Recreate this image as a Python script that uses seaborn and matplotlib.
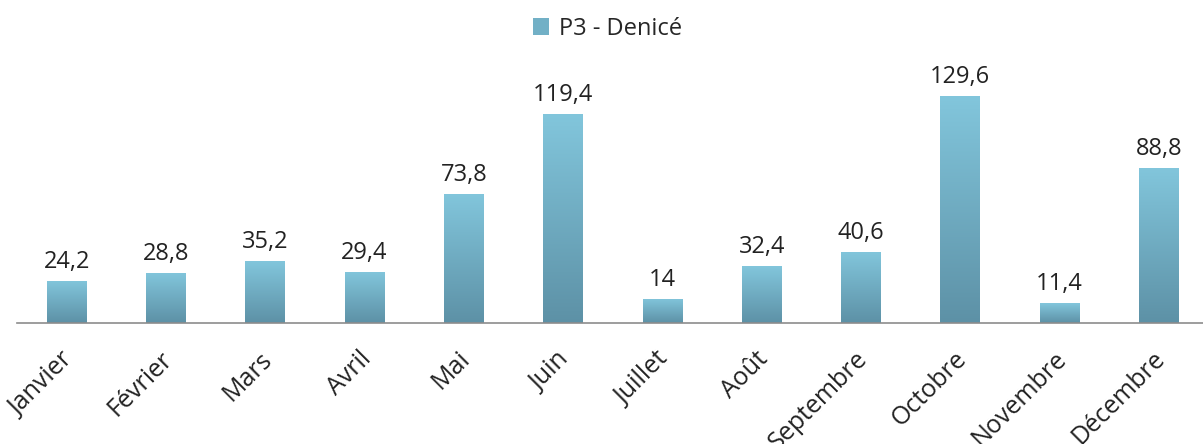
import numpy as np
import pandas as pd
import matplotlib
matplotlib.use("Agg")
import matplotlib.pyplot as plt
import matplotlib.transforms as mtransforms
import seaborn as sns
from matplotlib.colors import LinearSegmentedColormap
from matplotlib.patches import Patch

# data
mois = ["Janvier", "Février", "Mars", "Avril", "Mai", "Juin", "Juillet",
        "Août", "Septembre", "Octobre", "Novembre", "Décembre"]
valeurs = [24.2, 28.8, 35.2, 29.4, 73.8, 119.4, 14, 32.4, 40.6, 129.6, 11.4, 88.8]
serie = "P3 - Denicé"

df = pd.DataFrame({"Mois": mois, "Valeur": valeurs})

sns.set_style("white")
plt.rcParams["font.family"] = ["Open Sans", "DejaVu Sans"]

top_col = "#82c6dc"
bot_col = "#5d91a6"
grad = LinearSegmentedColormap.from_list("bleu", [bot_col, top_col])

fig = plt.figure(figsize=(12.03, 4.44), dpi=100)
ax = fig.add_axes([0.0141, 0.2725, 0.9905, 0.6306])

sns.barplot(data=df, x="Mois", y="Valeur", color=top_col, width=0.4,
            saturation=1, ax=ax)

# vertical gradient inside each bar
g = np.linspace(0, 1, 256).reshape(-1, 1)
for bar in ax.patches:
    x0, y0 = bar.get_x(), bar.get_y()
    w, h = bar.get_width(), bar.get_height()
    bar.set_edgecolor("none")
    im = ax.imshow(g, cmap=grad, aspect="auto", origin="lower",
                   extent=[x0, x0 + w, y0, y0 + h], zorder=bar.get_zorder() + 0.1)
    im.set_clip_path(bar)

ax.set_xlim(-0.5, len(mois) - 0.5)
ax.set_ylim(0, 160)

# data labels with French decimal comma
etiquettes = [f"{v:g}".replace(".", ",") for v in valeurs]
ax.bar_label(ax.containers[0], labels=etiquettes, padding=5, fontsize=17,
             color="#222222")

for s in ["top", "right", "left"]:
    ax.spines[s].set_visible(False)
ax.spines["bottom"].set_color("#8c8c8c")
ax.spines["bottom"].set_linewidth(1.2)

ax.set_yticks([])
ax.set_xlabel("")
ax.set_ylabel("")
ax.set_xticks(np.arange(len(mois)))
ax.set_xticklabels(mois, rotation=45, ha="right", va="top",
                   rotation_mode="anchor", fontsize=18, color="#222222")
ax.tick_params(axis="x", which="major", length=0, pad=12)
# nudge the rotated labels a little left and down
decal = mtransforms.ScaledTranslation(-6 / 100, -7 / 100, fig.dpi_scale_trans)
for lab in ax.get_xticklabels():
    lab.set_transform(lab.get_transform() + decal)
ax.set_xticks(np.arange(-0.5, len(mois)), minor=True)
ax.tick_params(axis="x", which="minor", length=8, width=1.2,
               color="#8c8c8c", direction="out")

handle = Patch(facecolor="#72b0c6", edgecolor="none", label=serie)
fig.legend(handles=[handle], loc="upper center", bbox_to_anchor=(0.505, 1.01),
           frameon=False, fontsize=17, handlelength=0.7, handleheight=0.7,
           handletextpad=0.4)

fig.savefig("out.png", dpi=100)
